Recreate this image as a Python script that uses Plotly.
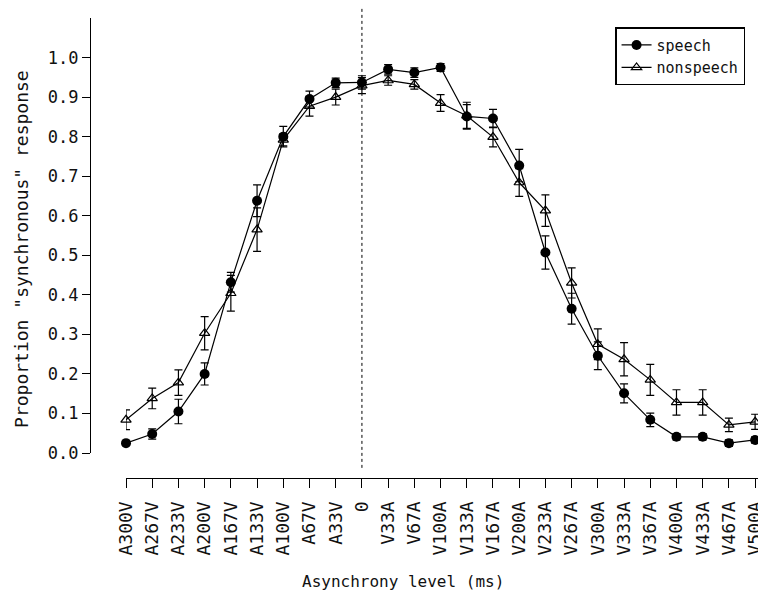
import plotly.graph_objects as go

categories = ["A300V", "A267V", "A233V", "A200V", "A167V", "A133V", "A100V", "A67V", "A33V", "0",
              "V33A", "V67A", "V100A", "V133A", "V167A", "V200A", "V233A", "V267A", "V300A",
              "V333A", "V367A", "V400A", "V433A", "V467A", "V500A"]

speech = [0.025, 0.048, 0.105, 0.200, 0.432, 0.638, 0.800, 0.895, 0.936, 0.937,
          0.970, 0.962, 0.975, 0.851, 0.846, 0.727, 0.507, 0.365, 0.246,
          0.151, 0.084, 0.041, 0.041, 0.025, 0.033]
speech_err = [0.006, 0.013, 0.031, 0.028, 0.025, 0.040, 0.026, 0.020, 0.012, 0.017,
              0.012, 0.012, 0.010, 0.030, 0.023, 0.041, 0.042, 0.039, 0.035,
              0.024, 0.017, 0.008, 0.008, 0.008, 0.008]

nonspeech = [0.084, 0.138, 0.178, 0.303, 0.404, 0.565, 0.792, 0.877, 0.900, 0.929,
             0.942, 0.932, 0.885, 0.853, 0.799, 0.684, 0.613, 0.430, 0.275,
             0.237, 0.185, 0.128, 0.128, 0.071, 0.079]
nonspeech_err = [0.025, 0.026, 0.032, 0.042, 0.045, 0.055, 0.015, 0.025, 0.020, 0.020,
                 0.012, 0.012, 0.021, 0.034, 0.025, 0.035, 0.040, 0.038, 0.039,
                 0.042, 0.039, 0.032, 0.032, 0.017, 0.019]

y_ticks = [0.0, 0.1, 0.2, 0.3, 0.4, 0.5, 0.6, 0.7, 0.8, 0.9, 1.0]

FONT = "DejaVu Sans Mono"
INK = "#111111"

fig = go.Figure()
fig.add_trace(go.Scatter(
    x=categories, y=speech, name="speech", mode="lines+markers",
    line=dict(color="black", width=1.2),
    marker=dict(symbol="circle", size=10, color="black"),
    error_y=dict(type="data", array=speech_err, visible=True, color="black", thickness=1.2, width=4),
    cliponaxis=False,
))
fig.add_trace(go.Scatter(
    x=categories, y=nonspeech, name="nonspeech", mode="lines+markers",
    line=dict(color="black", width=1.2),
    marker=dict(symbol="triangle-up-open", size=9, color="black", line=dict(width=1.2)),
    error_y=dict(type="data", array=nonspeech_err, visible=True, color="black", thickness=1.2, width=4),
    cliponaxis=False,
))

zero_idx = categories.index("0")
fig.add_shape(type="line", xref="x", yref="paper", x0=zero_idx, x1=zero_idx,
              y0=0.022, y1=1.024, line=dict(color="black", width=1, dash="dot"), layer="below")

fig.update_layout(
    width=758, height=600,
    margin=dict(l=90, r=0, t=18, b=122),
    paper_bgcolor="white", plot_bgcolor="white",
    font=dict(family=FONT, color=INK, size=16),
    showlegend=True,
    legend=dict(x=0.786, y=0.980, xanchor="left", yanchor="top",
                bgcolor="white", bordercolor="black", borderwidth=1.5,
                font=dict(family=FONT, size=15, color=INK), tracegroupgap=0),
    xaxis=dict(
        type="category", domain=[0.0539, 1], range=[0, 24.11],
        anchor="free", position=0,
        showline=True, linecolor="black", linewidth=1.2,
        ticks="outside", ticklen=9, tickcolor="black", tickwidth=1.2,
        tickmode="linear", tick0=0, dtick=1, tickangle=-90,
        tickfont=dict(family=FONT, size=18, color=INK), ticklabelstandoff=6,
        showgrid=False, zeroline=False, automargin=False,
    ),
    yaxis=dict(
        domain=[0.0543, 1], range=[0, 1.1],
        anchor="free", position=0,
        showline=True, linecolor="black", linewidth=1.2,
        ticks="outside", ticklen=8, tickcolor="black", tickwidth=1.2,
        tickmode="array", tickvals=y_ticks, ticktext=[f"{v:.1f}" for v in y_ticks],
        tickfont=dict(family=FONT, size=17, color=INK),
        showgrid=False, zeroline=False, automargin=False,
    ),
    annotations=[
        dict(text="Proportion \"synchronous\" response", xref="paper", yref="paper",
             x=-0.1018, y=0.498, xanchor="center", yanchor="middle", textangle=-90,
             showarrow=False, font=dict(family=FONT, size=18, color=INK)),
        dict(text="Asynchrony level (ms)", xref="paper", yref="paper",
             x=0.4686, y=-0.226, xanchor="center", yanchor="middle",
             showarrow=False, font=dict(family=FONT, size=16, color=INK)),
    ],
)

fig.write_html("out.html")
